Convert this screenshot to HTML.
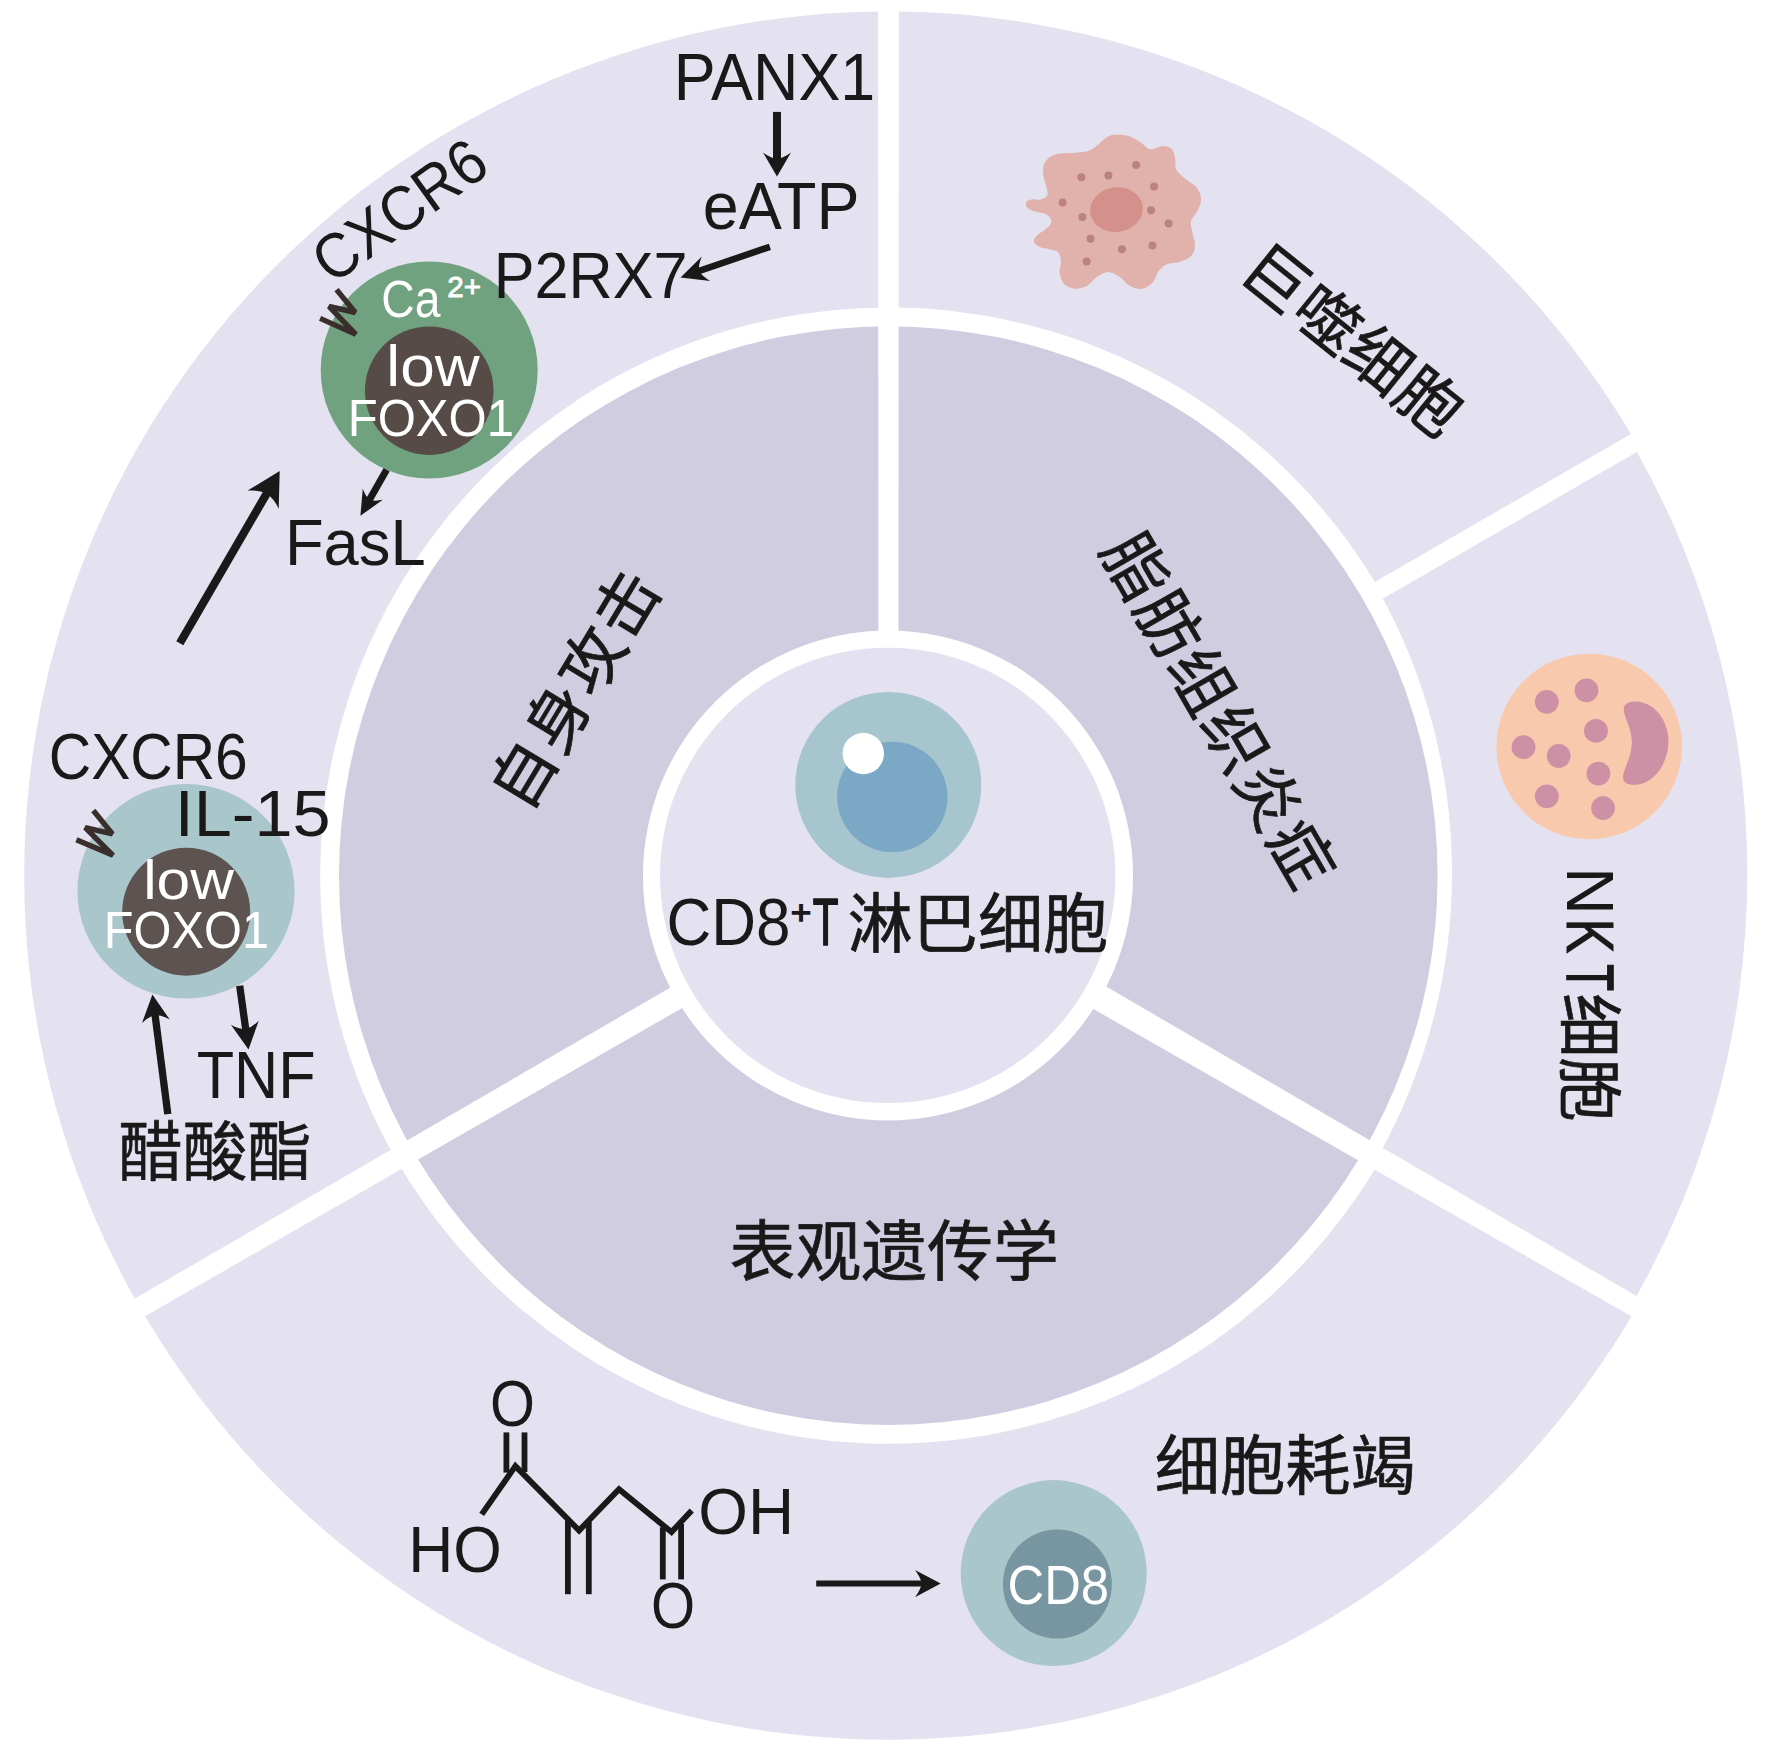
<!DOCTYPE html>
<html lang="zh"><head><meta charset="utf-8"><title>CD8+T</title>
<style>html,body{margin:0;padding:0;background:#fff}svg{display:block}text{font-family:"Liberation Sans", "Noto Sans CJK SC", sans-serif;}</style>
</head><body>
<svg width="1772" height="1752" viewBox="0 0 1772 1752">
<rect width="1772" height="1752" fill="#fff"/>
<path d="M1636.63 443.55 A864.1 864.1 0 1 0 1636.63 1307.65 L1380.38 1159.70 A568.2 568.2 0 1 1 1380.38 591.50 Z" fill="#E4E2F0"/>
<path d="M1633.26 445.50 A860.5 860.5 0 0 1 1631.52 1304.70 L1377.26 1157.90 A580 580 0 0 0 1379.34 592.10 Z" fill="#E4E2F0"/>
<polygon points="1359.25,612.17 1675.35,429.67 1666.15,413.73 1350.05,596.23" fill="#fff"/>
<circle cx="888.3" cy="875.6" r="549.3" fill="#D0CDE1"/>
<circle cx="888" cy="875.5" r="245" fill="#fff"/>
<polygon points="898.44,650.50 898.87,-29.50 878.03,-29.50 878.46,650.50" fill="#fff"/>
<polygon points="1076.33,999.30 1666.82,1336.54 1676.68,1319.46 1089.38,976.70" fill="#fff"/>
<polygon points="687.22,977.74 99.19,1319.25 109.30,1336.75 699.07,998.26" fill="#fff"/>
<circle cx="887.7" cy="875.4" r="227.7" fill="#E4E2F0"/>
<circle cx="888.3" cy="784.9" r="93" fill="#A6C5CF"/>
<circle cx="892.3" cy="796.9" r="55.2" fill="#7BA8C4"/>
<circle cx="863.3" cy="753.5" r="20.7" fill="#fff"/>
<circle cx="429.2" cy="370" r="108.5" fill="#70A27F"/>
<circle cx="429.2" cy="390.7" r="64.3" fill="#564B47"/>
<ellipse cx="186" cy="891.2" rx="108.6" ry="107.3" fill="#A9C6CA"/>
<circle cx="186.2" cy="911.7" r="64" fill="#5D5350"/>
<circle cx="1053.7" cy="1573.1" r="93" fill="#A9C6CA"/>
<circle cx="1057.4" cy="1584.1" r="54.5" fill="#7895A2"/>
<polyline points="336.5,289.6 355.3,312.5 329,306.3 355.8,334.4 320.1,318.4" fill="none" stroke="#3a2e2c" stroke-width="5.4" stroke-linejoin="bevel"/>
<polyline points="93.3,810.5 112.4,833.9 85.2,827.7 113,855.3 76.4,839.8" fill="none" stroke="#3a2e2c" stroke-width="5.4" stroke-linejoin="bevel"/>
<path d="M1116.5 134.4 C1120.3 134.3 1126.0 135.1 1130.0 136.4 C1134.1 137.8 1137.5 140.4 1140.9 142.5 C1144.3 144.7 1146.7 148.7 1150.3 149.3 C1154.0 149.8 1158.9 145.9 1162.5 145.9 C1166.1 145.9 1169.9 146.9 1172.0 149.3 C1174.2 151.6 1174.7 156.7 1175.4 160.1 C1176.1 163.5 1174.4 166.4 1176.1 169.6 C1177.8 172.8 1182.2 176.1 1185.6 179.1 C1188.9 182.0 1193.8 184.0 1196.4 187.2 C1199.0 190.4 1200.9 194.2 1201.1 198.0 C1201.4 201.9 1199.4 206.4 1197.8 210.2 C1196.1 214.1 1191.9 217.5 1191.0 221.1 C1190.1 224.7 1191.7 227.8 1192.3 231.9 C1193.0 236.0 1195.3 241.4 1195.0 245.4 C1194.8 249.5 1193.5 253.6 1191.0 256.3 C1188.5 259.0 1184.2 260.3 1180.1 261.7 C1176.1 263.1 1170.2 262.8 1166.6 264.4 C1163.0 266.0 1160.7 268.2 1158.5 271.2 C1156.2 274.1 1155.8 279.1 1153.1 282.0 C1150.3 285.0 1146.1 288.1 1142.2 288.8 C1138.4 289.5 1133.9 288.1 1130.0 286.1 C1126.2 284.0 1122.8 279.0 1119.2 276.6 C1115.6 274.2 1112.0 271.9 1108.4 271.9 C1104.7 271.9 1101.1 274.2 1097.5 276.6 C1093.9 279.0 1090.5 284.0 1086.7 286.1 C1082.8 288.1 1078.3 289.2 1074.5 288.8 C1070.7 288.3 1066.1 286.1 1063.7 283.4 C1061.2 280.7 1060.0 276.1 1059.6 272.5 C1059.1 268.9 1061.2 265.1 1061.0 261.7 C1060.7 258.3 1060.0 254.3 1058.2 252.2 C1056.4 250.2 1053.3 250.4 1050.1 249.5 C1047.0 248.6 1042.0 248.2 1039.3 246.8 C1036.6 245.4 1034.1 243.4 1033.9 241.4 C1033.6 239.4 1035.7 236.9 1037.9 234.6 C1040.2 232.4 1045.1 230.1 1047.4 227.8 C1049.7 225.6 1051.7 223.3 1051.5 221.1 C1051.2 218.8 1048.8 215.9 1046.1 214.3 C1043.3 212.7 1038.4 212.7 1035.2 211.6 C1032.1 210.5 1028.6 209.1 1027.1 207.5 C1025.6 205.9 1025.7 203.5 1026.4 202.1 C1027.1 200.7 1028.8 199.8 1031.2 199.4 C1033.5 198.9 1037.9 200.1 1040.6 199.4 C1043.3 198.7 1046.5 197.6 1047.4 195.3 C1048.3 193.1 1046.7 189.2 1046.1 185.8 C1045.4 182.5 1043.7 178.6 1043.3 175.0 C1043.0 171.4 1042.7 167.3 1044.0 164.2 C1045.4 161.0 1048.4 157.9 1051.5 156.1 C1054.5 154.2 1058.2 153.9 1062.3 153.3 C1066.4 152.8 1071.3 153.1 1075.8 152.7 C1080.4 152.2 1085.6 152.1 1089.4 150.6 C1093.2 149.2 1095.9 146.1 1098.9 143.9 C1101.8 141.6 1104.1 138.7 1107.0 137.1 C1109.9 135.5 1112.6 134.5 1116.5 134.4 Z" fill="#E0B2AB"/>
<ellipse cx="1116.5" cy="209.6" rx="26.4" ry="22.3" fill="#D4908A" transform="rotate(-8 1116.5 209.6)"/>
<circle cx="1136.1" cy="164.9" r="4" fill="#BC8280"/>
<circle cx="1108.4" cy="175.4" r="4" fill="#BC8280"/>
<circle cx="1081.3" cy="177.3" r="4" fill="#BC8280"/>
<circle cx="1154.1" cy="186.5" r="4" fill="#BC8280"/>
<circle cx="1062.6" cy="202.4" r="4" fill="#BC8280"/>
<circle cx="1151.0" cy="210.2" r="4" fill="#BC8280"/>
<circle cx="1082.4" cy="217.0" r="4" fill="#BC8280"/>
<circle cx="1168.6" cy="223.5" r="4" fill="#BC8280"/>
<circle cx="1090.5" cy="238.7" r="4" fill="#BC8280"/>
<circle cx="1152.4" cy="245.4" r="4" fill="#BC8280"/>
<circle cx="1121.9" cy="249.2" r="4" fill="#BC8280"/>
<circle cx="1086.7" cy="261.4" r="4" fill="#BC8280"/>
<circle cx="1589.2" cy="746.5" r="92.8" fill="#F8C9AC"/>
<circle cx="1586.5" cy="690.3" r="11.9" fill="#CD90A4"/>
<circle cx="1546.8" cy="701.8" r="11.9" fill="#CD90A4"/>
<circle cx="1596.0" cy="730.9" r="11.9" fill="#CD90A4"/>
<circle cx="1523.5" cy="747.2" r="11.9" fill="#CD90A4"/>
<circle cx="1558.7" cy="756.0" r="11.9" fill="#CD90A4"/>
<circle cx="1598.4" cy="773.6" r="11.9" fill="#CD90A4"/>
<circle cx="1546.8" cy="796.3" r="11.9" fill="#CD90A4"/>
<circle cx="1603.1" cy="808.1" r="11.9" fill="#CD90A4"/>
<path transform="translate(1470,630) scale(0.13545)" d="M1135 590 C1130 540 1190 520 1250 530 C1390 555 1470 700 1465 830 C1460 990 1360 1130 1230 1142 C1170 1148 1125 1130 1130 1080 C1140 1010 1195 930 1195 830 C1195 730 1145 660 1135 590 Z" fill="#CD90A4"/>
<line x1="777.0" y1="111.9" x2="777.0" y2="160.9" stroke="#1b1819" stroke-width="8"/><path d="M777.0 176.5 L763.0 152.5 Q770.0 157.8 777.0 159.2 Q784.0 157.8 791.0 152.5 Z" fill="#1b1819"/>
<line x1="769.9" y1="246.8" x2="697.1" y2="271.7" stroke="#1b1819" stroke-width="6.6"/><path d="M680.5 277.4 L701.8 256.4 Q698.3 264.4 698.9 271.1 Q702.5 276.7 710.3 281.0 Z" fill="#1b1819"/>
<line x1="179.8" y1="643.2" x2="268.1" y2="491.1" stroke="#1b1819" stroke-width="8.2"/><path d="M279.7 471.1 L278.7 508.7 Q274.1 498.7 266.8 493.4 Q258.5 489.7 247.6 490.6 Z" fill="#1b1819"/>
<line x1="386.6" y1="469.8" x2="368.6" y2="501.3" stroke="#1b1819" stroke-width="7"/><path d="M360.4 515.8 L362.8 488.4 Q365.2 495.8 369.6 499.7 Q375.2 501.5 382.8 499.8 Z" fill="#1b1819"/>
<line x1="167.8" y1="1114.1" x2="154.8" y2="1012.8" stroke="#1b1819" stroke-width="7.3"/><path d="M152.4 994.5 L169.7 1019.5 Q162.1 1015.0 155.0 1014.9 Q148.2 1016.8 142.0 1023.1 Z" fill="#1b1819"/>
<line x1="239.7" y1="985.7" x2="246.0" y2="1031.2" stroke="#1b1819" stroke-width="7.3"/><path d="M248.5 1049.5 L230.9 1024.7 Q238.6 1029.1 245.7 1029.2 Q252.5 1027.1 258.7 1020.8 Z" fill="#1b1819"/>
<line x1="816.2" y1="1583.6" x2="923.6" y2="1583.6" stroke="#1b1819" stroke-width="6"/><path d="M940.7 1583.6 L915.0 1597.2 Q920.4 1590.4 921.7 1583.6 Q920.4 1576.8 915.0 1569.9 Z" fill="#1b1819"/>
<line x1="506.4" y1="1432.4" x2="506.4" y2="1472.6" stroke="#1b1819" stroke-width="5.8" stroke-linecap="butt"/>
<line x1="524.5" y1="1432.4" x2="524.5" y2="1472" stroke="#1b1819" stroke-width="5.8" stroke-linecap="butt"/>
<polyline points="481.7,1514.4 515.4,1466.1 579.1,1530.5 619,1489.3 671.5,1532.1 691.7,1510.5" fill="none" stroke="#1b1819" stroke-width="5.8" stroke-linejoin="miter"/>
<line x1="567.9" y1="1520" x2="567.9" y2="1594.2" stroke="#1b1819" stroke-width="5.8" stroke-linecap="butt"/>
<line x1="588.8" y1="1522" x2="588.8" y2="1594.2" stroke="#1b1819" stroke-width="5.8" stroke-linecap="butt"/>
<line x1="662.8" y1="1527.3" x2="662.8" y2="1579.4" stroke="#1b1819" stroke-width="5.8" stroke-linecap="butt"/>
<line x1="681.1" y1="1524" x2="681.1" y2="1579.4" stroke="#1b1819" stroke-width="5.8" stroke-linecap="butt"/>
<text transform="matrix(0.6286 0 0 0.6594 673.87 100.30)" font-size="100" fill="#1b1819">PANX1</text>
<text transform="matrix(0.6464 0 0 0.6700 702.81 229.33)" font-size="100" fill="#1b1819">eATP</text>
<text transform="matrix(0.6118 0 0 0.6429 493.71 298.30)" font-size="100" fill="#1b1819">P2RX7</text>
<text transform="translate(338.5,281) rotate(-35.5) matrix(0.5805 0 0 0.6352 -7.90 -0.04)" font-size="100" fill="#1b1819">CXCR6</text>
<text transform="matrix(0.4626 0 0 0.5141 381.29 317.19)" font-size="100" fill="#fff">Ca</text>
<text transform="matrix(0.2962 0 0 0.2871 447.32 297.10)" font-size="100" fill="#fff" stroke="#fff" stroke-width="3">2+</text>
<text transform="matrix(0.6217 0 0 0.5676 386.35 385.93)" font-size="100" fill="#fff">low</text>
<text transform="matrix(0.4908 0 0 0.5155 347.67 435.78)" font-size="100" fill="#fff">FOXO1</text>
<text transform="matrix(0.6332 0 0 0.6400 284.93 564.56)" font-size="100" fill="#1b1819">FasL</text>
<text transform="matrix(0.5872 0 0 0.6394 48.76 779.46)" font-size="100" fill="#1b1819">CXCR6</text>
<text transform="matrix(0.6847 0 0 0.6529 174.64 836.25)" font-size="100" fill="#1b1819">IL-15</text>
<text transform="matrix(0.6056 0 0 0.5554 143.16 898.54)" font-size="100" fill="#fff">low</text>
<text transform="matrix(0.4874 0 0 0.5225 103.80 948.28)" font-size="100" fill="#fff">FOXO1</text>
<text transform="matrix(0.6122 0 0 0.6594 196.68 1097.90)" font-size="100" fill="#1b1819">TNF</text>
<text transform="matrix(0.6452 0 0 0.6457 118.27 1174.93)" font-size="100" fill="#1b1819" stroke="#1b1819" stroke-width="1.1">醋酸酯</text>
<text transform="matrix(0.6204 0 0 0.6718 666.50 944.93)" font-size="100" fill="#1b1819">CD8</text>
<text transform="matrix(0.3521 0 0 0.3286 790.64 923.96)" font-size="100" fill="#1b1819" stroke="#1b1819" stroke-width="4">+</text>
<text transform="matrix(0.4211 0 0 0.6754 812.66 945.00)" font-size="100" fill="#1b1819" stroke="#1b1819" stroke-width="2.5">T</text>
<text transform="matrix(0.6515 0 0 0.6436 847.59 946.71)" font-size="100" fill="#1b1819" stroke="#1b1819" stroke-width="1.1">淋巴细胞</text>
<text transform="matrix(0.6586 0 0 0.6559 729.57 1274.75)" font-size="100" fill="#1b1819" stroke="#1b1819" stroke-width="1.1">表观遗传学</text>
<text transform="matrix(0.6526 0 0 0.6447 1154.69 1488.70)" font-size="100" fill="#1b1819" stroke="#1b1819" stroke-width="1.1">细胞耗竭</text>
<text transform="matrix(0.5079 0 0 0.5465 1007.46 1603.65)" font-size="100" fill="#fff">CD8</text>
<text transform="matrix(0.6241 0 0 0.6479 408.21 1572.15)" font-size="100" fill="#1b1819">HO</text>
<text transform="matrix(0.6387 0 0 0.6563 698.21 1534.14)" font-size="100" fill="#1b1819">OH</text>
<text transform="matrix(0.5779 0 0 0.6479 490.01 1426.25)" font-size="100" fill="#1b1819">O</text>
<text transform="matrix(0.5676 0 0 0.6563 650.96 1627.94)" font-size="100" fill="#1b1819">O</text>
<text transform="translate(1567,872.4) rotate(90) matrix(0.6643 0 0 0.6725 -5.31 0.00)" font-size="100" fill="#1b1819">N</text>
<text transform="translate(1567,872.4) rotate(90) matrix(0.5228 0 0 0.6725 46.22 0.00)" font-size="100" fill="#1b1819" stroke="#1b1819" stroke-width="1.5">K</text>
<text transform="translate(1567,872.4) rotate(90) matrix(0.4368 0 0 0.6725 91.73 0.00)" font-size="100" fill="#1b1819" stroke="#1b1819" stroke-width="2.5">T</text>
<text transform="translate(1567,872.4) rotate(90) matrix(0.6422 0 0 0.6436 120.73 0.81)" font-size="100" fill="#1b1819" stroke="#1b1819" stroke-width="1.1">细胞</text>
<text transform="translate(1353.4,338.8) rotate(38.8)" x="-130.50" y="24.51" font-size="64.5" letter-spacing="1.00" fill="#1b1819" stroke="#1b1819" stroke-width="0.7">巨噬细胞</text>
<text transform="translate(573.9,688.6) rotate(-59)" x="-132.00" y="24.51" font-size="64.5" letter-spacing="2.00" fill="#1b1819" stroke="#1b1819" stroke-width="0.7">自身攻击</text>
<text transform="translate(1219.5,709.5) rotate(60)" x="-198.00" y="24.51" font-size="64.5" letter-spacing="1.80" fill="#1b1819" stroke="#1b1819" stroke-width="0.7">脂肪组织炎症</text>
</svg>
</body></html>
